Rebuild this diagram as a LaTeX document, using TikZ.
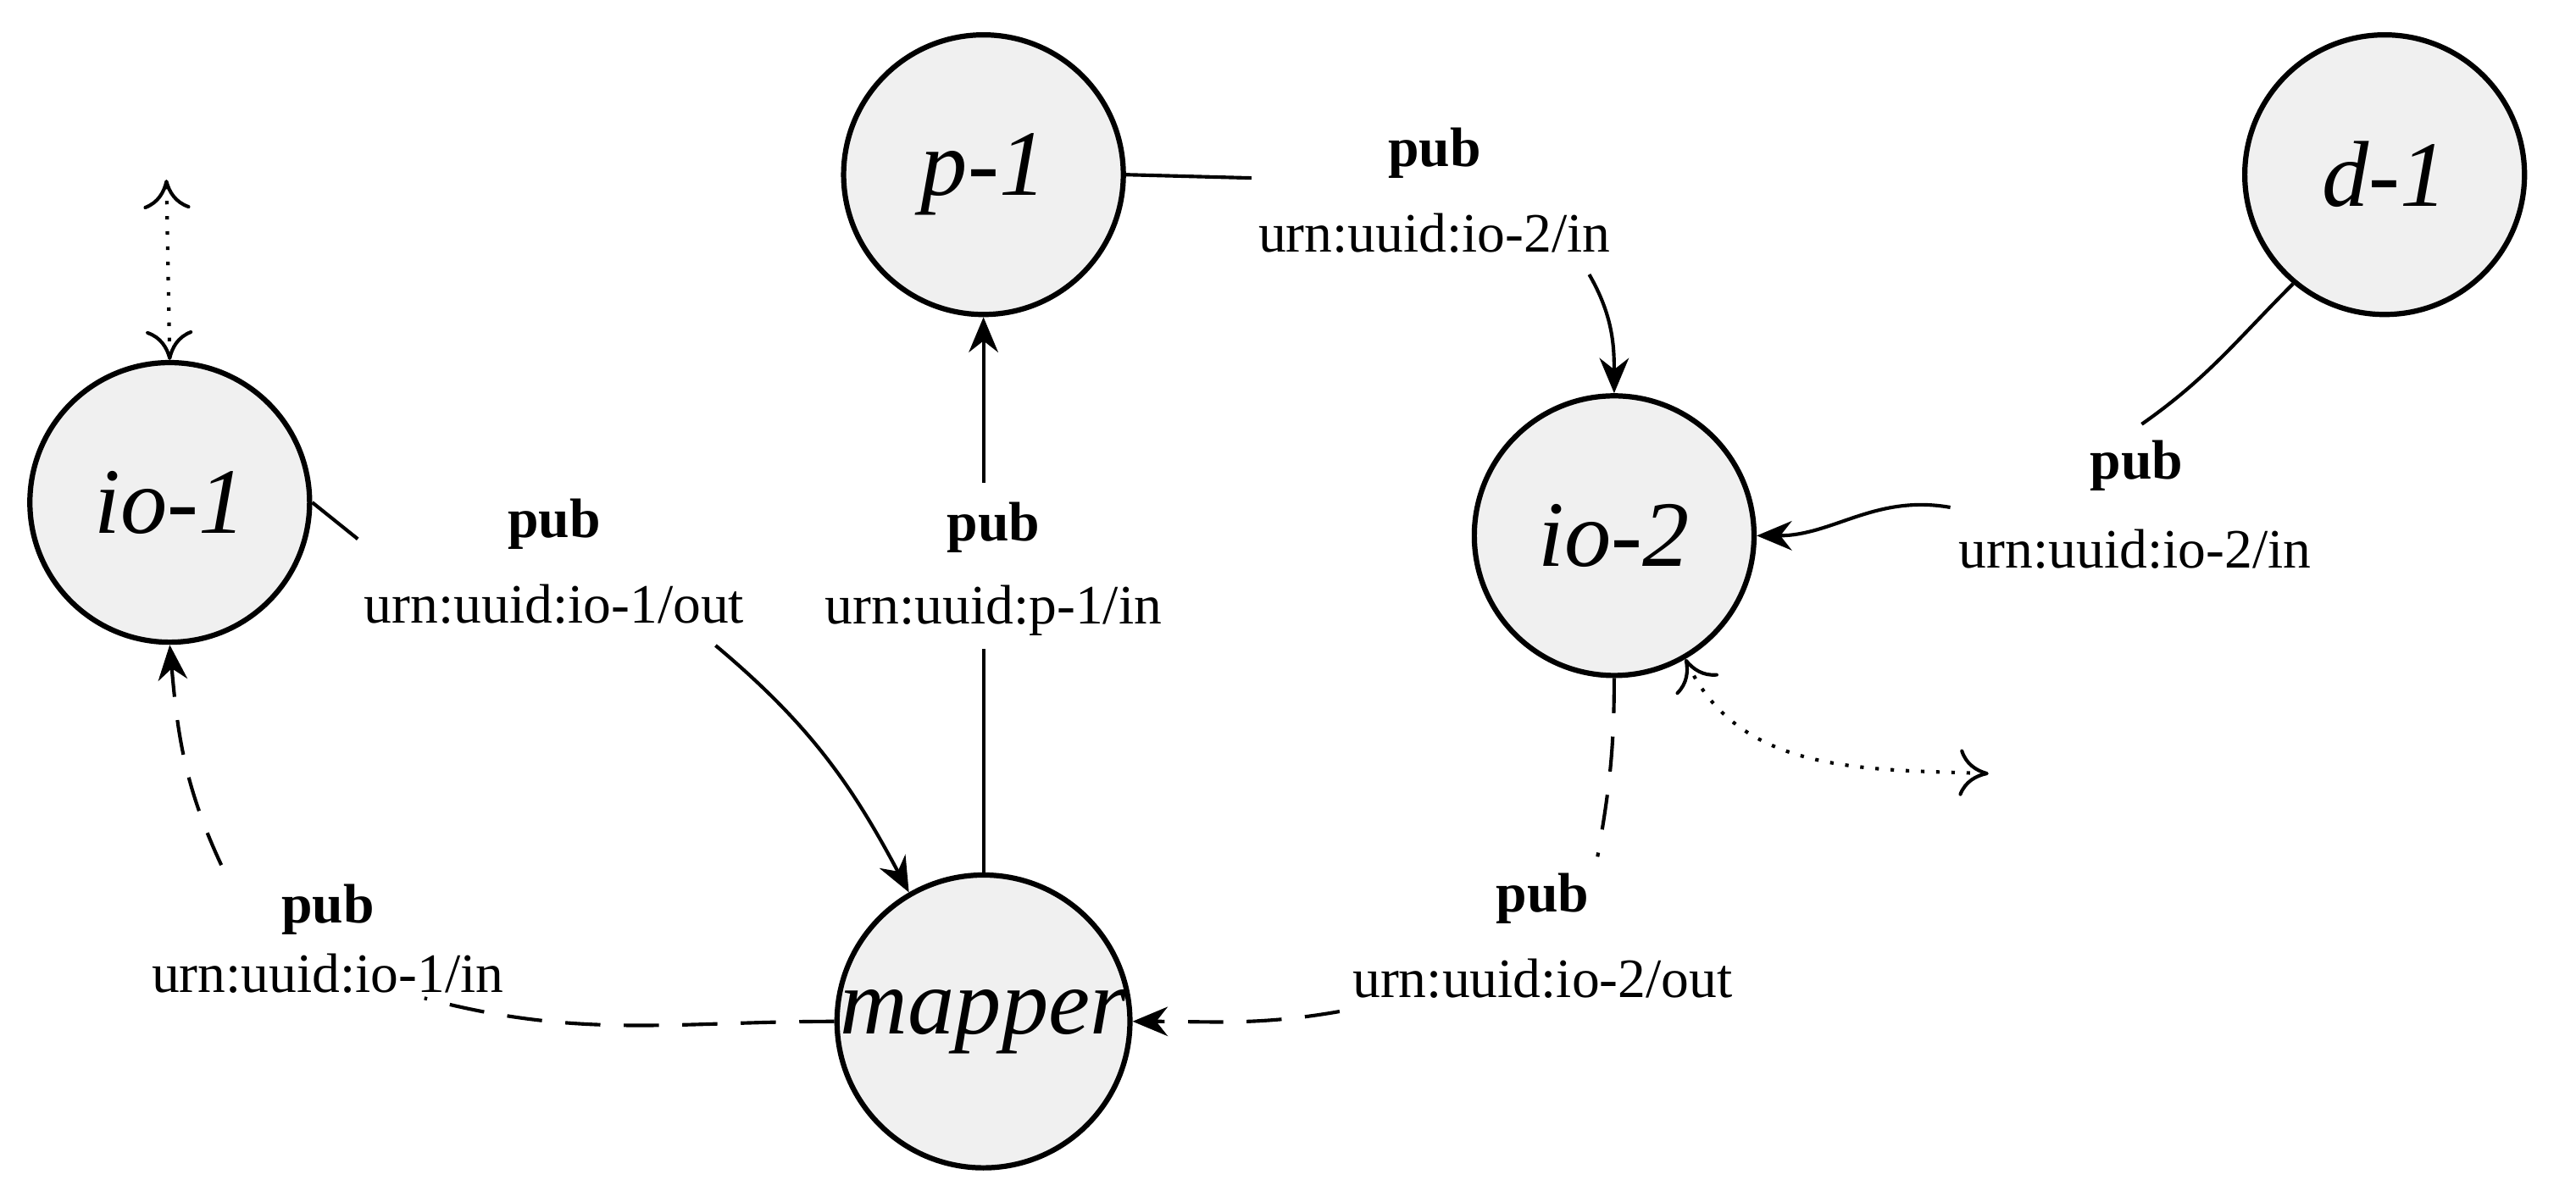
\documentclass[tikz,border=0pt]{standalone}
\usepackage{fontspec}
\setmainfont{Liberation Serif}
\usetikzlibrary{arrows.meta}
\begin{document}
\begin{tikzpicture}[x=0.01cm,y=-0.01cm,
  st/.style={circle,draw,line width=0.9pt,fill=black!6,minimum size=1.68cm,inner sep=0pt,font=\fontsize{16}{18}\selectfont\itshape},
  pb/.style={font=\fontsize{9.5}{11}\selectfont\bfseries},
  ur/.style={font=\fontsize{9.5}{11}\selectfont},
  ln/.style={line width=0.6pt},
  ar/.style={ln,-{Stealth[length=6pt,width=5pt]}},
  dsh/.style={dash pattern=on 6pt off 4pt},
  dt/.style={ln,dotted,{Computer Modern Rightarrow[length=5pt,width=8pt]}-{Computer Modern Rightarrow[length=5pt,width=8pt]}}]
\useasboundingbox (0,0) rectangle (1548,709);
\node[st] (io1) at (102,302) {io-1};
\node[st] (p1) at (591,105) {p-1};
\node[st] (d1) at (1433,105) {d-1};
\node[st] (io2) at (970,322) {io-2};
\node[st] (map) at (591,614) {mapper};
% p-1 -> io-2
\node[pb] (pa) at (862,92) {pub};
\node[ur] (ua) at (862,140) {urn:uuid:io-2/in};
\coordinate (a1) at (752,107);
\coordinate (a2) at (955,165);
\draw[ln] (p1.east) -- (a1);
\draw[ar] (a2) to[out=-60,in=90] (io2.north);
% d-1 -> io-2
\node[pb] (pbb) at (1284,280) {pub};
\node[ur] (ub) at (1283,330) {urn:uuid:io-2/in};
\coordinate (b1) at (1287,255);
\coordinate (b2) at (1172,305);
\draw[ln] (d1.-130) to[out=-135,in=35] (b1);
\draw[ar] (b2) to[out=170,in=0] (io2.east);
% io-1 -> mapper
\node[pb] (pc) at (333,315) {pub};
\node[ur] (uc) at (333,363) {urn:uuid:io-1/out};
\coordinate (c1) at (215,324);
\coordinate (c2) at (430,388);
\draw[ln] (io1.east) -- (c1);
\draw[ar] (c2) to[out=-40,in=118] (map.120);
% mapper -> p-1
\node[pb] (pd) at (597,317) {pub};
\node[ur] (ud) at (597,367) {urn:uuid:p-1/in};
\coordinate (d1a) at (591,390);
\coordinate (d2a) at (591,290);
\draw[ln] (map.north) -- (d1a);
\draw[ar] (d2a) -- (p1.south);
% io-2 -> mapper
\node[pb] (pe) at (927,540) {pub};
\node[ur] (ue) at (927,588) {urn:uuid:io-2/out};
\coordinate (e1) at (960,515);
\coordinate (e2) at (805,608);
\draw[ln,dsh] (io2.south) to[out=-90,in=80] (e1);
\draw[ar,dsh] (e2) to[out=190,in=0] (map.east);
% mapper -> io-1
\node[pb] (pf) at (197,547) {pub};
\node[ur] (uf) at (197,585) {urn:uuid:io-1/in};
\coordinate (f1) at (255,600);
\coordinate (f2) at (133,520);
\draw[ln,dsh] (map.west) to[out=180,in=-15] (f1);
\draw[ar,dsh] (f2) to[out=115,in=-85] (io1.south);
% dotted
\coordinate (g1) at (100,108);
\draw[dt] (io1.north) -- (g1);
\coordinate (h1) at (1195,465);
\draw[dt] (io2.-60) to[out=-65,in=178] (h1);
\end{tikzpicture}
\end{document}
